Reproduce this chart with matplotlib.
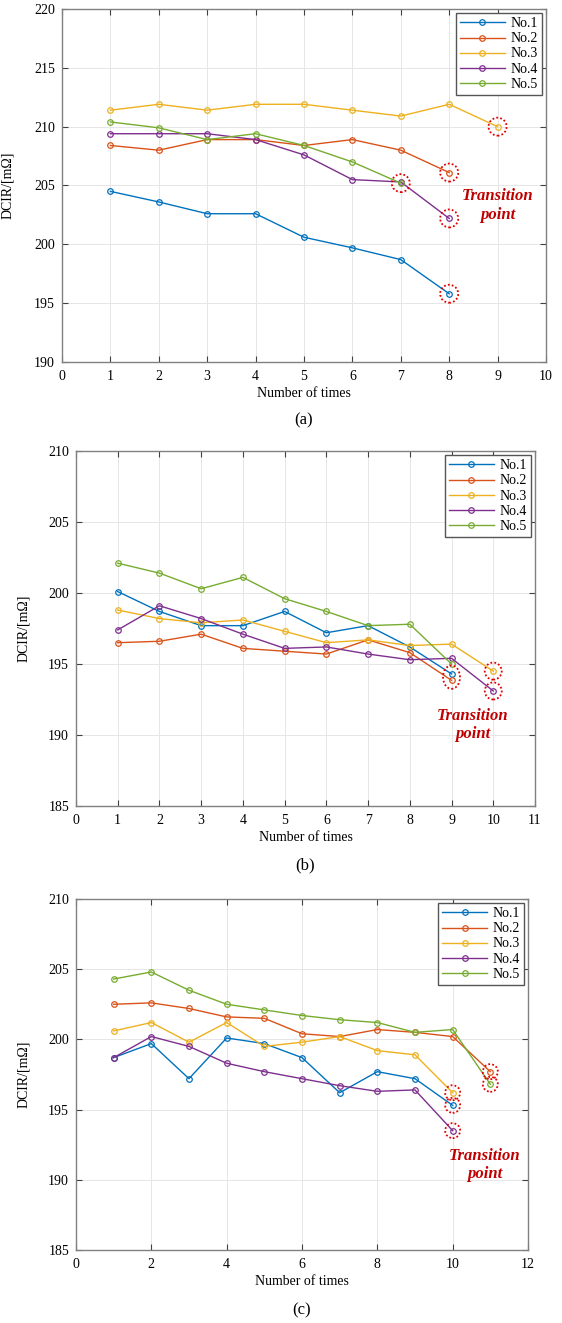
import numpy as np
import matplotlib
matplotlib.use("Agg")
import matplotlib.pyplot as plt
from matplotlib.patches import Ellipse
from matplotlib.transforms import ScaledTranslation

plt.rcParams['font.family'] = ['Liberation Serif', 'DejaVu Serif']

labels = ['No.1', 'No.2', 'No.3', 'No.4', 'No.5']
colors = ['#0072BD', '#D95319', '#EDB120', '#7E2F8E', '#77AC30']

# panel (a)
a_no1 = [204.5, 203.6, 202.6, 202.6, 200.6, 199.7, 198.7, 195.8]
a_no2 = [208.4, 208.0, 208.9, 208.9, 208.4, 208.9, 208.0, 206.1]
a_no3 = [211.4, 211.9, 211.4, 211.9, 211.9, 211.4, 210.9, 211.9, 210.0]
a_no4 = [209.4, 209.4, 209.4, 208.9, 207.6, 205.5, 205.3, 202.2]
a_no5 = [210.4, 209.9, 208.9, 209.4, 208.4, 207.0, 205.2]

# panel (b)
b_no1 = [200.1, 198.7, 197.7, 197.7, 198.7, 197.2, 197.7, 196.2, 194.3]
b_no2 = [196.5, 196.6, 197.1, 196.1, 195.9, 195.7, 196.7, 195.8, 193.85]
b_no3 = [198.8, 198.2, 197.9, 198.1, 197.3, 196.5, 196.7, 196.3, 196.4, 194.5]
b_no4 = [197.4, 199.1, 198.2, 197.1, 196.1, 196.2, 195.7, 195.3, 195.4, 193.1]
b_no5 = [202.1, 201.4, 200.3, 201.1, 199.6, 198.7, 197.7, 197.8, 195.0]

# panel (c)
c_no1 = [198.7, 199.7, 197.2, 200.1, 199.7, 198.7, 196.2, 197.7, 197.2, 195.3]
c_no2 = [202.5, 202.6, 202.2, 201.6, 201.5, 200.4, 200.2, 200.7, 200.5, 200.2, 197.7]
c_no3 = [200.6, 201.2, 199.8, 201.2, 199.5, 199.8, 200.2, 199.2, 198.9, 196.2]
c_no4 = [198.7, 200.2, 199.5, 198.3, 197.7, 197.2, 196.7, 196.3, 196.4, 193.5]
c_no5 = [204.3, 204.8, 203.5, 202.5, 202.1, 201.7, 201.4, 201.2, 200.5, 200.7, 196.8]

# which series get a dotted ring on their last point; groups share one ellipse
a_rings = [[4], [1], [3], [0], [2]]
b_rings = [[0, 1], [2], [3]]
c_rings = [[2], [0], [3], [1], [4]]

panels = [
    dict(series=[a_no1, a_no2, a_no3, a_no4, a_no5], rings=a_rings,
         rect=[0.1103, 0.7264, 0.8612, 0.2668], xlim=(0, 10), xticks=np.arange(0, 11, 1),
         ylim=(190, 220), yticks=np.arange(190, 221, 5), text_xy=(9.0, 203.3),
         ring=0.18, tag='(a)', tag_y=420, ylab_x=14),
    dict(series=[b_no1, b_no2, b_no3, b_no4, b_no5], rings=b_rings,
         rect=[0.1352, 0.3908, 0.8167, 0.2683], xlim=(0, 11), xticks=np.arange(0, 12, 1),
         ylim=(185, 210), yticks=np.arange(185, 211, 5), text_xy=(9.5, 190.7),
         ring=0.17, tag='(b)', tag_y=865, ylab_x=30),
    dict(series=[c_no1, c_no2, c_no3, c_no4, c_no5], rings=c_rings,
         rect=[0.1352, 0.0552, 0.8043, 0.2653], xlim=(0, 12), xticks=np.arange(0, 13, 2),
         ylim=(185, 210), yticks=np.arange(185, 211, 5), text_xy=(10.86, 191.05),
         ring=0.15, tag='(c)', tag_y=1310, ylab_x=30),
]

fig = plt.figure(figsize=(5.62, 13.23), dpi=100)

for p in panels:
    ax = fig.add_axes(p['rect'])
    ax.set_xlim(*p['xlim'])
    ax.set_ylim(*p['ylim'])
    ax.set_xticks(p['xticks'])
    ax.set_yticks(p['yticks'])

    for vals, lab, col in zip(p['series'], labels, colors):
        x = np.arange(1, len(vals) + 1)
        ax.plot(x, vals, color=col, lw=1.0, marker='o', ms=4, mfc='none',
                mew=0.9, label=lab)

    # dotted rings around the transition points
    for grp in p['rings']:
        xs = [len(p['series'][i]) for i in grp]
        ys = [p['series'][i][-1] for i in grp]
        xc, yc = np.mean(xs), np.mean(ys)
        ylo = ax.transData.transform((xc, min(ys)))[1]
        yhi = ax.transData.transform((xc, max(ys)))[1]
        h = p['ring'] + (yhi - ylo) / fig.dpi
        off = ScaledTranslation(xc, yc, ax.transData)
        e = Ellipse((0, 0), p['ring'], h, transform=fig.dpi_scale_trans + off,
                    fill=False, edgecolor='#E00000', lw=1.3, ls=(0, (1, 1.2)),
                    zorder=5, clip_on=False)
        ax.add_patch(e)

    ax.text(p['text_xy'][0], p['text_xy'][1], 'Transition\npoint', color='#C00000',
            fontsize=12, fontweight='bold', fontstyle='italic', ha='center',
            va='center', linespacing=1.2)

    ax.grid(True, color='#e6e6e6', lw=0.7)
    ax.set_axisbelow(True)
    ax.tick_params(direction='in', top=True, right=True, length=4, width=0.8,
                   colors='#404040', labelcolor='black', labelsize=10)
    ax.tick_params(axis='x', pad=6)
    ax.tick_params(axis='y', pad=5)
    for s in ax.spines.values():
        s.set_color('#808080')
        s.set_linewidth(1.0)
    ax.set_xlabel('Number of times', fontsize=10, labelpad=3)
    ax.set_ylabel('DCIR/[m\u03a9]', fontsize=10)
    left_px = p['rect'][0] * 562
    ax.yaxis.set_label_coords((p['ylab_x'] - left_px) / (p['rect'][2] * 562), 0.5)

    leg = ax.legend(loc='upper right', fontsize=10, handlelength=3.2,
                    fancybox=False, framealpha=1, edgecolor='#555555',
                    borderpad=0.3, labelspacing=0.15, handletextpad=0.4,
                    borderaxespad=0.3)
    leg.get_frame().set_linewidth(1.0)

    fig.text(p['rect'][0] + p['rect'][2] / 2, 1 - p['tag_y'] / 1323.0,
             p['tag'], fontsize=12, ha='center', va='center')

fig.savefig('out.png', dpi=100)
